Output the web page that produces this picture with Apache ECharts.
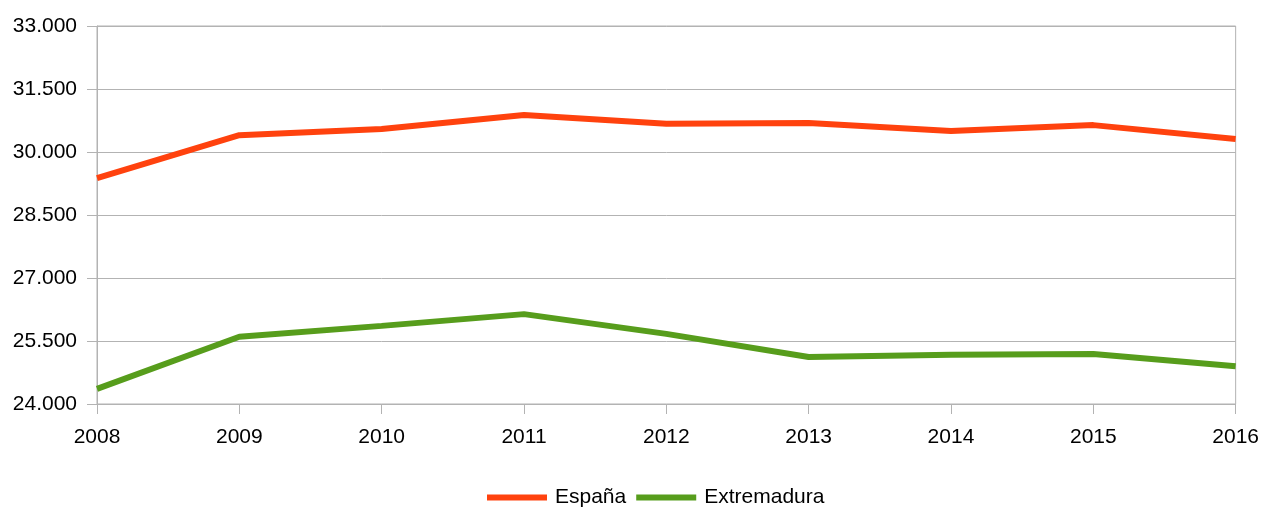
<!DOCTYPE html>
<html><head><meta charset="utf-8">
<script src="https://cdn.jsdelivr.net/npm/echarts@6/dist/echarts.min.js"></script>
<style>html,body{margin:0;padding:0;background:#fff}#c{width:1262px;height:507px}</style>
</head><body><div id="c"></div>
<script>
const years = ['2008','2009','2010','2011','2012','2013','2014','2015','2016'];
const espana = [29380, 30400, 30550, 30880, 30670, 30690, 30500, 30640, 30310];
const extremadura = [24360, 25600, 25860, 26140, 25670, 25120, 25170, 25190, 24900];
const seriesNames = ['España', 'Extremadura'];

const fmt = v => String(v).replace(/\B(?=(\d{3})+(?!\d))/g, '.');
const chart = echarts.init(document.getElementById('c'));
chart.setOption({
  animation: false,
  textStyle: {fontFamily: 'Liberation Sans'},
  grid: {left: 97, right: 26, top: 26, bottom: 103, show: true, borderColor: '#b3b3b3', borderWidth: 1},
  legend: {
    top: 482, left: 482, icon: 'rect', itemWidth: 60, itemHeight: 6, itemGap: 10,
    textStyle: {fontSize: 21, color: '#000', fontFamily: 'Liberation Sans', padding: [0,0,0,3]},
    data: seriesNames
  },
  xAxis: {
    type: 'category', data: years, boundaryGap: false,
    axisLine: {lineStyle: {color: '#b3b3b3'}},
    axisTick: {show: true, length: 10, lineStyle: {color: '#b3b3b3'}},
    axisLabel: {color: '#000', fontSize: 21, margin: 23},
    splitLine: {show: false}
  },
  yAxis: {
    type: 'value', min: 24000, max: 33000, interval: 1500,
    axisLine: {show: true, lineStyle: {color: '#b3b3b3'}},
    axisTick: {show: true, length: 10, lineStyle: {color: '#b3b3b3'}},
    axisLabel: {color: '#000', fontSize: 21, margin: 20, formatter: fmt},
    splitLine: {lineStyle: {color: '#b3b3b3'}}
  },
  series: [
    {name: seriesNames[0], type: 'line', data: espana, symbol: 'none', lineStyle: {width: 6, color: '#ff420e'}, itemStyle: {color: '#ff420e'}},
    {name: seriesNames[1], type: 'line', data: extremadura, symbol: 'none', lineStyle: {width: 6, color: '#579d1c'}, itemStyle: {color: '#579d1c'}}
  ]
});
</script></body></html>
